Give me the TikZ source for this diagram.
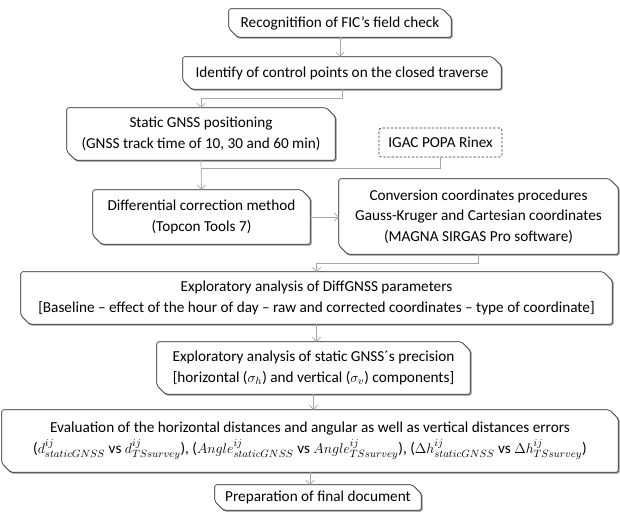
\documentclass[tikz,border=0pt]{standalone}
\usepackage{fontspec}
\setmainfont{Carlito}
\usepackage{amsmath}
\usetikzlibrary{calc,arrows.meta,backgrounds}

\newlength{\snipcut}
\setlength{\snipcut}{0.27cm}
% outline of a box with two snipped corners
\newcommand{\snipoutline}[1]{(#1.west) -- (#1.north west) -- ([xshift=-\snipcut]#1.north east) -- ([yshift=-\snipcut]#1.north east) -- (#1.south east) -- ([xshift=\snipcut]#1.south west) -- ([yshift=\snipcut]#1.south west) -- cycle}
\newcommand{\framesnip}[1]{%
  \begin{scope}[on background layer]
    \draw[boxshadow] \snipoutline{#1};
    \fill[white, rounded corners=1.5pt] \snipoutline{#1};
  \end{scope}
  \draw[boxline] \snipoutline{#1};}

\tikzset{
  stage/.style={align=center, inner sep=0pt, font=\fontsize{13}{17.5}\selectfont},
  boxsize/.style 2 args={minimum width=#1*0.03cm, minimum height=#2*0.03cm},
  boxline/.style={draw=black!85, line width=0.5pt, rounded corners=1.5pt},
  boxshadow/.style={draw=black!45, line width=1.1pt, rounded corners=1.5pt,
    transform canvas={shift={(0.7pt,-0.7pt)}}},
  source/.style={stage, draw=black!80, line width=0.5pt, rounded corners=2pt,
    dash pattern=on 2pt off 1.5pt},
  flow/.style={draw=black!35, line width=0.6pt, -{Straight Barb[length=3.5pt,width=7pt]}},
  feed/.style={draw=black!35, line width=0.6pt}
}

\begin{document}
\begin{tikzpicture}[x=0.03cm, y=0.03cm]
\useasboundingbox (0,0) rectangle (620,517);

\node[stage, boxsize={222}{28}] (recog) at (340,494) {Recognitifion of FIC’s field check};
\node[stage, boxsize={318}{32}] (ident) at (342,444) {Identify of control points on the closed traverse};
\node[stage, boxsize={268}{52}] (static) at (201,383) {Static GNSS positioning\\(GNSS track time of 10, 30 and 60 min)};
\node[source, boxsize={123}{29}] (igac) at (440.5,374.5) {IGAC POPA Rinex};
\node[stage, boxsize={217}{54}] (diffcorr) at (201.5,300) {Differential correction method\\(Topcon Tools 7)};
\node[stage, boxsize={279}{75}] (convert) at (478.5,300.5) {Conversion coordinates procedures\\Gauss-Kruger and Cartesian coordinates\\(MAGNA SIRGAS Pro software)};
\node[stage, boxsize={591}{52}] (explore) at (316.5,219) {Exploratory analysis of DiffGNSS parameters\\[0pt][Baseline – effect of the hour of day – raw and corrected coordinates – type of coordinate]};
\node[stage, boxsize={313}{52}] (precis) at (313.5,149) {Exploratory analysis of static GNSS´s precision\\[0pt][horizontal ($\sigma_h$) and vertical ($\sigma_v$) components]};
\node[stage, boxsize={616}{62}] (evaluate) at (310,76) {Evaluation of the horizontal distances and angular as well as vertical distances errors\\($d^{ij}_{staticGNSS}$ vs $d^{ij}_{TSsurvey}$), ($Angle^{ij}_{staticGNSS}$ vs $Angle^{ij}_{TSsurvey}$), ($\Delta h^{ij}_{staticGNSS}$ vs $\Delta h^{ij}_{TSsurvey}$)};
\node[stage, boxsize={206}{25}] (finaldoc) at (318,19.5) {Preparation of final document};

\framesnip{recog}
\framesnip{ident}
\framesnip{static}
\framesnip{diffcorr}
\framesnip{convert}
\framesnip{explore}
\framesnip{precis}
\framesnip{evaluate}
\framesnip{finaldoc}

% connectors
\draw[flow] (recog.south) -- (recog.south |- ident.north);
\draw[flow] (ident.south) -- ++(0,-9) -| (static.north);
\draw[flow] (static.south) -- (diffcorr.north);
\coordinate (merge) at (static.south |- 0,349);
\draw[feed] (igac.south) |- (merge);
\draw[flow] (diffcorr.east) -- (diffcorr.east -| convert.west);
\draw[flow] (convert.south) -- ++(0,-9) -| (explore.north);
\draw[flow] (explore.south) -- (explore.south |- precis.north);
\draw[flow] (precis.south) -- (precis.south |- evaluate.north);
\draw[flow] (evaluate.south) -- (evaluate.south |- finaldoc.north);
\end{tikzpicture}
\end{document}
